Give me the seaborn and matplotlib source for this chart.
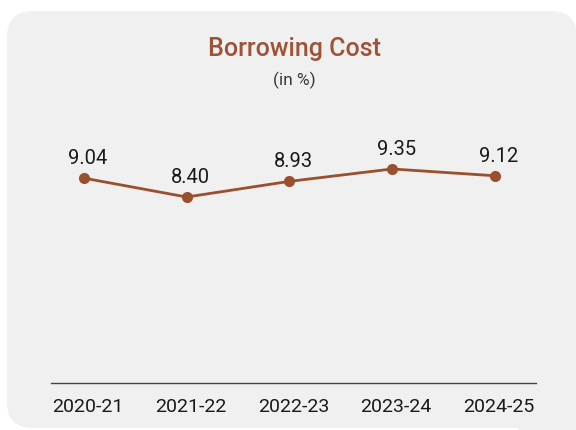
import matplotlib
matplotlib.use("Agg")
import matplotlib.pyplot as plt
import matplotlib.transforms as mtransforms
import seaborn as sns
import pandas as pd
from matplotlib.patches import FancyBboxPatch, Rectangle

years = ["2020-21", "2021-22", "2022-23", "2023-24", "2024-25"]
cost = [9.04, 8.40, 8.93, 9.35, 9.12]

sns.set_theme(style="white")
plt.rcParams['font.family'] = ['Roboto', 'DejaVu Sans']

df = pd.DataFrame({"year": years, "cost": cost})

fig = plt.figure(figsize=(5.76, 4.31), dpi=100)
fig.patch.set_facecolor("white")
card_color = "#eff0ef"
card = FancyBboxPatch((7/576, 2/431), (577-7)/576, (431-12-2)/431,
                      boxstyle="round,pad=0,rounding_size=0.045",
                      transform=fig.transFigure, facecolor=card_color,
                      edgecolor="none", zorder=-10, mutation_aspect=576/431)
fig.patches.append(card)
fig.patches.append(Rectangle((0.9, 0.0), 0.2, 0.1, transform=fig.transFigure,
                             facecolor=card_color, edgecolor="none", zorder=-9))

ax = fig.add_axes([51/576, 1 - 384/431, (536-51)/576, (384-100)/431])
ax.set_facecolor("none")
ax.set_zorder(5)
line_color = "#9a4f2e"
sns.lineplot(data=df, x="year", y="cost", ax=ax, color=line_color, linewidth=2,
             marker="o", markersize=8, markeredgewidth=0, sort=False)
for i, v in enumerate(cost):
    ax.annotate(f"{v:.2f}", (i, v), xytext=(3, 8), textcoords="offset points",
                ha="center", va="bottom", fontsize=14.5, color="#1a1a1a")

ax.set_xlim(-0.32, 4.40)
ax.set_ylim(2.1, 11.72)
ax.set_yticks([])
ax.set_xlabel("")
ax.set_ylabel("")
for s in ["top", "left", "right"]:
    ax.spines[s].set_visible(False)
ax.spines["bottom"].set_color("#444444")
ax.spines["bottom"].set_linewidth(1.0)
ax.tick_params(axis="x", length=0, pad=10, labelsize=14, labelcolor="#1a1a1a")
offset = mtransforms.ScaledTranslation(4/100, 0, fig.dpi_scale_trans)
for lab in ax.get_xticklabels():
    lab.set_transform(lab.get_transform() + offset)

fig.text(294/576, 1 - 49/431, "Borrowing Cost", ha="center", va="center",
         fontsize=18, fontweight="medium", color="#9e5236")
fig.text(294/576, 1 - 80/431, "(in %)", ha="center", va="center",
         fontsize=12.5, color="#3a3a3a")

fig.savefig("out.png", dpi=100, facecolor=fig.get_facecolor())
